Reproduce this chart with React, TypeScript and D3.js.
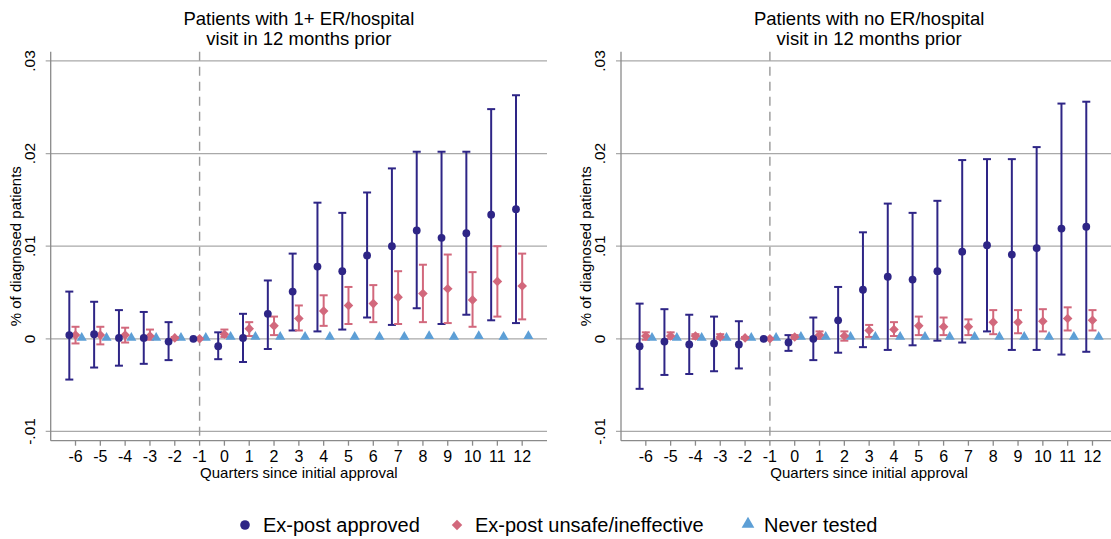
import * as d3 from "d3";

// quarters relative to initial approval (-1 is the omitted reference quarter)
const quarters = [-6, -5, -4, -3, -2, -1, 0, 1, 2, 3, 4, 5, 6, 7, 8, 9, 10, 11, 12];
const yTicks = [-0.01, 0, 0.01, 0.02, 0.03];
const yTickLabels = ["-.01", "0", ".01", ".02", ".03"];
const seriesNames = ["Ex-post approved", "Ex-post unsafe/ineffective", "Never tested"];

// panel 1: 1+ ER/hospital visit
const er1ApprovedEst = [0.0004, 0.0005, 0.0001, 0.0001, -0.0003, 0, -0.0008, 0.0001, 0.0027, 0.0051, 0.0078, 0.0073, 0.009, 0.01, 0.0117, 0.0109, 0.0114, 0.0134, 0.014];
const er1ApprovedLo = [-0.0044, -0.0031, -0.0029, -0.0027, -0.0023, null, -0.0022, -0.0025, -0.0011, 0.0009, 0.0008, 0.001, 0.0023, 0.0015, 0.0033, 0.0016, 0.0026, 0.002, 0.0017];
const er1ApprovedHi = [0.0051, 0.004, 0.0031, 0.0029, 0.0018, null, 0.0007, 0.0027, 0.0063, 0.0092, 0.0147, 0.0136, 0.0158, 0.0184, 0.0202, 0.0202, 0.0202, 0.0248, 0.0263];
const er1UnsafeEst = [0.0004, 0.0004, 0.0004, 0.0003, 0.0001, 0, 0.0005, 0.0011, 0.0014, 0.0022, 0.003, 0.0036, 0.0038, 0.0045, 0.0049, 0.0054, 0.0042, 0.0062, 0.0057];
const er1UnsafeLo = [-0.0005, -0.0006, -0.0004, -0.0001, -0.0001, null, 0.0002, 0.0003, 0.0004, 0.0009, 0.0014, 0.0016, 0.0018, 0.0016, 0.0018, 0.0017, 0.0013, 0.0024, 0.0021];
const er1UnsafeHi = [0.0013, 0.0013, 0.0012, 0.001, 0.0002, null, 0.001, 0.0018, 0.0024, 0.0036, 0.0047, 0.0056, 0.0058, 0.0073, 0.008, 0.0091, 0.0072, 0.01, 0.0092];
const er1NeverEst = [0, 0, 0, 0, 0, 0, 0.0001, 0.0001, 0.0001, 0.0001, 0.0001, 0.0001, 0.0001, 0.0001, 0.0002, 0.0001, 0.0002, 0.0001, 0.0002];

// panel 2: no ER/hospital visit
const er0ApprovedEst = [-0.0008, -0.0003, -0.0006, -0.0005, -0.0006, 0, -0.0004, 0, 0.002, 0.0053, 0.0067, 0.0064, 0.0073, 0.0094, 0.0101, 0.0091, 0.0098, 0.0119, 0.0121];
const er0ApprovedLo = [-0.0054, -0.0039, -0.0038, -0.0035, -0.0032, null, -0.0013, -0.0023, -0.0015, -0.0009, -0.0012, -0.0007, -0.0002, -0.0004, 0.0008, -0.0012, -0.0012, -0.0017, -0.0014];
const er0ApprovedHi = [0.0038, 0.0032, 0.0026, 0.0024, 0.0019, null, 0.0004, 0.0023, 0.0056, 0.0115, 0.0146, 0.0136, 0.0149, 0.0193, 0.0194, 0.0194, 0.0207, 0.0254, 0.0256];
const er0UnsafeEst = [0.0003, 0.0003, 0.0003, 0.0002, 0.0001, 0, 0.0002, 0.0004, 0.0003, 0.0009, 0.001, 0.0014, 0.0013, 0.0013, 0.0018, 0.0018, 0.0019, 0.0022, 0.002];
const er0UnsafeLo = [-0.0001, 0, 0, 0, 0, null, 0, 0, -0.0002, 0.0002, 0.0003, 0.0004, 0.0004, 0.0004, 0.0005, 0.0006, 0.0008, 0.0009, 0.0009];
const er0UnsafeHi = [0.0007, 0.0007, 0.0005, 0.0005, 0.0002, null, 0.0004, 0.0008, 0.0008, 0.0015, 0.0018, 0.0024, 0.0023, 0.0021, 0.0031, 0.0031, 0.0032, 0.0034, 0.0031];
const er0NeverEst = [0, 0, 0, 0, 0, 0, 0.0001, 0.0001, 0.0001, 0.0001, 0.0001, 0.0001, 0.0001, 0.0001, 0.0001, 0.0001, 0.0001, 0.0001, 0.0001];

const NAVY = "#2e2586";
const PINK = "#d2687c";
const LIGHT = "#5d9fd6";
const GRID = "#a9a9a9";
const AXIS = "#8a8a8a";
const FONT = "'Liberation Sans', Arial, sans-serif";

const y = d3.scaleLinear().domain([-0.011, 0.031]).range([440.7, 51.7]);
const diamond = d3.symbol(d3.symbolSquare, 46)();
const triangle = d3.symbol(d3.symbolTriangle, 44)();

function Panel({ x0, title, apEst, apLo, apHi, unEst, unLo, unHi, nvEst }) {
  const x = d3.scaleLinear().domain([-7, 13]).range([x0, x0 + 496.3]);
  const [r0, r1] = x.range();
  const step = x(1) - x(0);
  const off = 0.25 * step;
  const cap = 4;
  const ciBar = (q, lo, hi, color, key) =>
    lo == null ? null : (
      <g key={key} stroke={color} strokeWidth={2}>
        <line x1={q} x2={q} y1={y(lo)} y2={y(hi)} />
        <line x1={q - cap} x2={q + cap} y1={y(lo)} y2={y(lo)} />
        <line x1={q - cap} x2={q + cap} y1={y(hi)} y2={y(hi)} />
      </g>
    );
  const cx = (r0 + r1) / 2;
  return (
    <g fontFamily={FONT}>
      <text textAnchor="middle" fontSize={18.5}>
        <tspan x={cx} y={25}>{title[0]}</tspan>
        <tspan x={cx} y={44.5}>{title[1]}</tspan>
      </text>
      {yTicks.map((t, i) => (
        <g key={t}>
          <line x1={r0 - 5} x2={r1} y1={y(t)} y2={y(t)} stroke={GRID} strokeWidth={1.3} />
          <text transform={`translate(${r0 - 16},${y(t)}) rotate(-90)`} textAnchor="middle" fontSize={15.5}>
            {yTickLabels[i]}
          </text>
        </g>
      ))}
      <line x1={r0} x2={r0} y1={y.range()[1]} y2={y.range()[0]} stroke={AXIS} strokeWidth={1.3} />
      <line x1={r0} x2={r1} y1={y.range()[0]} y2={y.range()[0]} stroke={AXIS} strokeWidth={1.3} />
      <line x1={x(-1)} x2={x(-1)} y1={y.range()[1]} y2={y.range()[0]} stroke="#999" strokeWidth={1.4} strokeDasharray="9,6" />
      {quarters.map((q) => (
        <g key={q}>
          <line x1={x(q)} x2={x(q)} y1={y.range()[0]} y2={y.range()[0] + 5} stroke={AXIS} strokeWidth={1.3} />
          <text x={x(q)} y={462} textAnchor="middle" fontSize={16}>{q}</text>
        </g>
      ))}
      <text x={cx} y={478} textAnchor="middle" fontSize={15}>Quarters since initial approval</text>
      <text transform={`translate(${r0 - 30},${(y.range()[0] + y.range()[1]) / 2}) rotate(-90)`} textAnchor="middle" fontSize={15}>
        % of diagnosed patients
      </text>
      {quarters.map((q, i) => ciBar(x(q) - off, apLo[i], apHi[i], NAVY, "a" + q))}
      {quarters.map((q, i) => ciBar(x(q), unLo[i], unHi[i], PINK, "u" + q))}
      {quarters.map((q, i) => (
        <path key={"n" + q} d={triangle} transform={`translate(${x(q) + off},${y(nvEst[i]) - 1})`} fill={LIGHT} />
      ))}
      {quarters.map((q, i) => (
        <path key={"d" + q} d={diamond} transform={`translate(${x(q)},${y(unEst[i])}) rotate(45)`} fill={PINK} />
      ))}
      {quarters.map((q, i) => (
        <circle key={"c" + q} cx={x(q) - off} cy={y(apEst[i])} r={3.9} fill={NAVY} />
      ))}
    </g>
  );
}

export default function App() {
  return (
    <svg width={1111} height={539} style={{ position: "absolute", left: 0, top: 0, background: "#fff" }}>
      <rect width={1111} height={539} fill="#fff" />
      <Panel
        x0={50.7}
        title={["Patients with 1+ ER/hospital", "visit in 12 months prior"]}
        apEst={er1ApprovedEst} apLo={er1ApprovedLo} apHi={er1ApprovedHi}
        unEst={er1UnsafeEst} unLo={er1UnsafeLo} unHi={er1UnsafeHi}
        nvEst={er1NeverEst}
      />
      <Panel
        x0={621}
        title={["Patients with no ER/hospital", "visit in 12 months prior"]}
        apEst={er0ApprovedEst} apLo={er0ApprovedLo} apHi={er0ApprovedHi}
        unEst={er0UnsafeEst} unLo={er0UnsafeLo} unHi={er0UnsafeHi}
        nvEst={er0NeverEst}
      />
      <g fontFamily={FONT} fontSize={20}>
        <circle cx={245} cy={525} r={4.8} fill={NAVY} />
        <text x={263} y={532}>{seriesNames[0]}</text>
        <path d={d3.symbol(d3.symbolSquare, 55)()} transform="translate(457,525) rotate(45)" fill={PINK} />
        <text x={475} y={532}>{seriesNames[1]}</text>
        <path d={d3.symbol(d3.symbolTriangle, 70)()} transform="translate(748,524)" fill={LIGHT} />
        <text x={764} y={532}>{seriesNames[2]}</text>
      </g>
    </svg>
  );
}
